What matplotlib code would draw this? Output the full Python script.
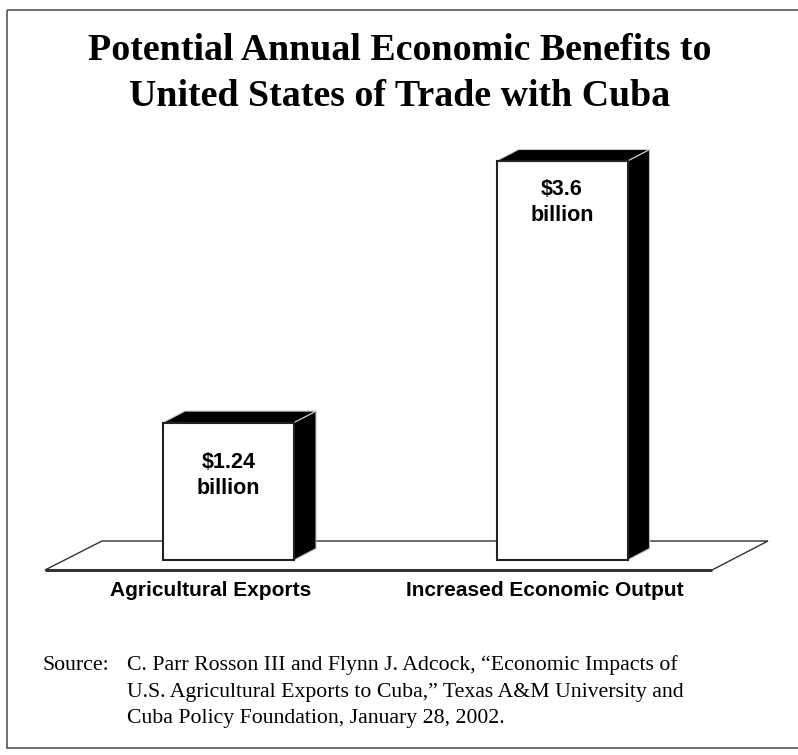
import matplotlib
matplotlib.use("Agg")
import matplotlib.pyplot as plt
from matplotlib.patches import Polygon, Rectangle

categories = ["Agricultural Exports", "Increased Economic Output"]
values = [1.24, 3.6]
value_labels = ["$1.24\nbillion", "$3.6\nbillion"]
title_lines = ["Potential Annual Economic Benefits to", "United States of Trade with Cuba"]
source_head = "Source:"
source_lines = [
    "C. Parr Rosson III and Flynn J. Adcock, \u201cEconomic Impacts of",
    "U.S. Agricultural Exports to Cuba,\u201d Texas A&M University and",
    "Cuba Policy Foundation, January 28, 2002.",
]

W, H = 798, 755
fig = plt.figure(figsize=(W / 100, H / 100), dpi=100)
fig.patch.set_facecolor("white")

# overlay axes in pixel coords
ov = fig.add_axes([0, 0, 1, 1])
ov.set_xlim(0, W)
ov.set_ylim(H, 0)
ov.axis("off")
ov.add_patch(Rectangle((7, 10), 820, 738, fill=False, edgecolor="#555555", lw=1.2, clip_on=False))

serif = ["Liberation Serif", "DejaVu Serif"]
sans = ["Liberation Sans", "DejaVu Sans"]
ov.text(400, 50, title_lines[0], ha="center", va="center", fontsize=27.3, fontweight="bold", family=serif)
ov.text(400, 97, title_lines[1], ha="center", va="center", fontsize=27.3, fontweight="bold", family=serif)

ov.text(42, 665, source_head, ha="left", va="center", fontsize=15.7, family=serif)
ov.text(127, 665, source_lines[0], ha="left", va="center", fontsize=15.7, family=serif)
ov.text(127, 692, source_lines[1], ha="left", va="center", fontsize=15.7, family=serif)
ov.text(127, 718, source_lines[2], ha="left", va="center", fontsize=15.7, family=serif)

# bar axes in data coords
px_per_unit_x = 333.5
px_per_unit_y = 399 / 3.6
x0_px = 228.5 - 0.5 * px_per_unit_x
base_px = 560
ax = fig.add_axes([x0_px / W, (H - base_px) / H, 2 * px_per_unit_x / W, 5 * px_per_unit_y / H])
ax.set_xlim(-0.5, 1.5)
ax.set_ylim(0, 5)
ax.axis("off")

bw = 131 / px_per_unit_x
ddx = 22 / px_per_unit_x
ddy = 11.5 / px_per_unit_y

# floor
fy0 = -10 / px_per_unit_y
fy1 = 19 / px_per_unit_y
fx0 = (45 - 228.5) / px_per_unit_x
fx1 = (712 - 228.5) / px_per_unit_x
bx0 = (102 - 228.5) / px_per_unit_x
bx1 = (768 - 228.5) / px_per_unit_x
ax.add_patch(Polygon([(fx0, fy0), (fx1, fy0), (bx1, fy1), (bx0, fy1)], closed=True,
                     facecolor="white", edgecolor="#333333", lw=1.0, clip_on=False, zorder=1))
ax.plot([fx0, fx1], [fy0, fy0], color="#333333", lw=2.2, clip_on=False, zorder=1.5, solid_capstyle="butt")

label_gap = [0.27, 0.16]
for i, (v, lab) in enumerate(zip(values, value_labels)):
    l = i - bw / 2
    r = i + bw / 2
    side = Polygon([(r, 0), (r + ddx, ddy), (r + ddx, v + ddy), (r, v)], closed=True,
                   facecolor="black", edgecolor="#bbbbbb", lw=0.8, clip_on=False, zorder=3)
    top = Polygon([(l, v), (l + ddx, v + ddy), (r + ddx, v + ddy), (r, v)], closed=True,
                  facecolor="black", edgecolor="#cccccc", lw=0.8, clip_on=False, zorder=3)
    ax.add_patch(side)
    ax.add_patch(top)
    ax.bar(i, v, width=bw, facecolor="white", edgecolor="#222222", lw=1.5, zorder=4, clip_on=False)
    ax.text(i, v - label_gap[i], lab, ha="center", va="top", fontsize=15.5, fontweight="bold",
            family=sans, linespacing=1.3, zorder=5)

label_x = [211, 545]
for lx, c in zip(label_x, categories):
    ov.text(lx, 590, c, ha="center", va="center", fontsize=15, fontweight="bold", family=sans)

fig.savefig("out.png", dpi=100, facecolor="white")
